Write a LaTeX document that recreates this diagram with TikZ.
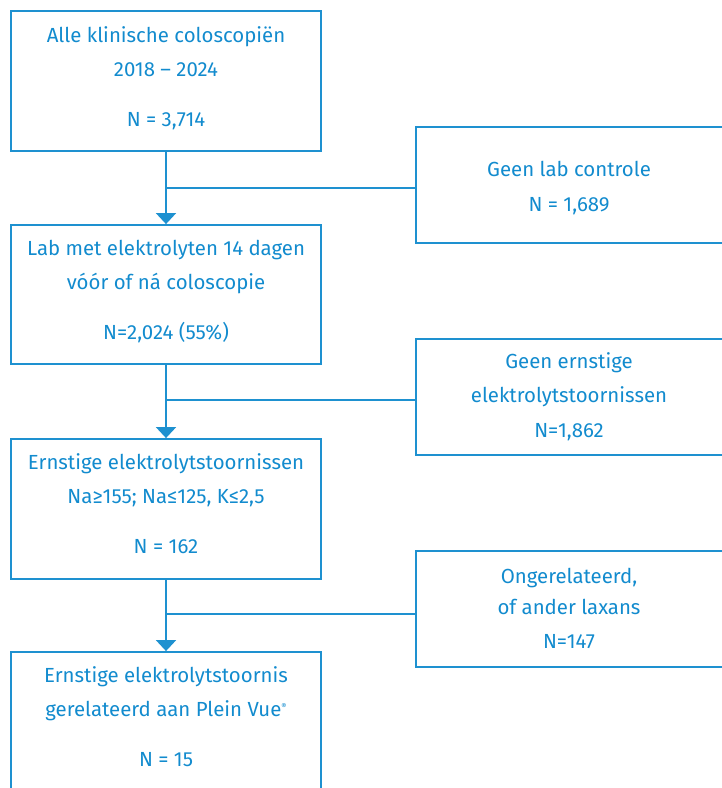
\documentclass[tikz,border=0pt]{standalone}
\usepackage{fontspec}
\setmainfont{Fira Sans}
\usetikzlibrary{arrows.meta}
\definecolor{fc}{RGB}{18,139,206}
\definecolor{lc}{RGB}{30,145,208}
\begin{document}
\begin{tikzpicture}[x=1pt,y=-1pt,
  box/.style={draw=lc,line width=1.8pt,rectangle,inner sep=0pt},
  txt/.style={anchor=base,text=fc,inner sep=0pt,font=\fontsize{20.4}{22}\selectfont},
  conn/.style={draw=lc,line width=1.8pt},
  arr/.style={conn,-{Triangle[width=20pt,length=11pt]}}]
\useasboundingbox (0,0) rectangle (721,788);
% left boxes
\node[box,minimum width=310pt,minimum height=140pt] (b1) at (166,81) {};
\node[box,minimum width=310pt,minimum height=139pt] (b2) at (166,294.5) {};
\node[box,minimum width=310pt,minimum height=140pt] (b3) at (166,509) {};
\node[box,minimum width=310pt,minimum height=160pt] (b4) at (166,732) {};
% right boxes
\node[box,minimum width=324pt,minimum height=116pt] (r1) at (578,185) {};
\node[box,minimum width=324pt,minimum height=116pt] (r2) at (578,397) {};
\node[box,minimum width=324pt,minimum height=116pt] (r3) at (578,609) {};
% texts
\node[txt] (t11) at (166,42) {Alle klinische coloscopiën};
\node[txt] (t12) at (166,76) {2018 – 2024};
\node[txt] (t13) at (166,126) {N = 3,714};
\node[txt] (t21) at (166,255) {Lab met elektrolyten 14 dagen};
\node[txt] (t22) at (166,289) {vóór of ná coloscopie};
\node[txt] (t23) at (166,339) {N=2,024 (55\%)};
\node[txt] (t31) at (166,469) {Ernstige elektrolytstoornissen};
\node[txt] (t32) at (166,503) {Na≥155; Na≤125, K≤2,5};
\node[txt] (t33) at (166,553) {N = 162};
\node[txt] (t41) at (166,682) {Ernstige elektrolytstoornis};
\node[txt] (t42) at (166,716) {gerelateerd aan Plein Vue{\raisebox{7pt}{\fontsize{8}{8}\selectfont ®}}};
\node[txt] (t43) at (166,766) {N = 15};
\node[txt] (u11) at (569,176) {Geen lab controle};
\node[txt] (u12) at (569,211) {N = 1,689};
\node[txt] (u21) at (569,368) {Geen ernstige};
\node[txt] (u22) at (569,402) {elektrolytstoornissen};
\node[txt] (u23) at (569,437) {N=1,862};
\node[txt] (u31) at (569,583) {Ongerelateerd,};
\node[txt] (u32) at (569,614) {of ander laxans};
\node[txt] (u33) at (569,648) {N=147};
% connectors
\draw[arr] (b1.south) -- (b2.north);
\draw[arr] (b2.south) -- (b3.north);
\draw[arr] (b3.south) -- (b4.north);
\coordinate (j1) at (166,188);
\coordinate (j2) at (166,400);
\coordinate (j3) at (166,614);
\draw[conn] (j1) -- (j1 -| r1.west);
\draw[conn] (j2) -- (j2 -| r2.west);
\draw[conn] (j3) -- (j3 -| r3.west);
\end{tikzpicture}
\end{document}
